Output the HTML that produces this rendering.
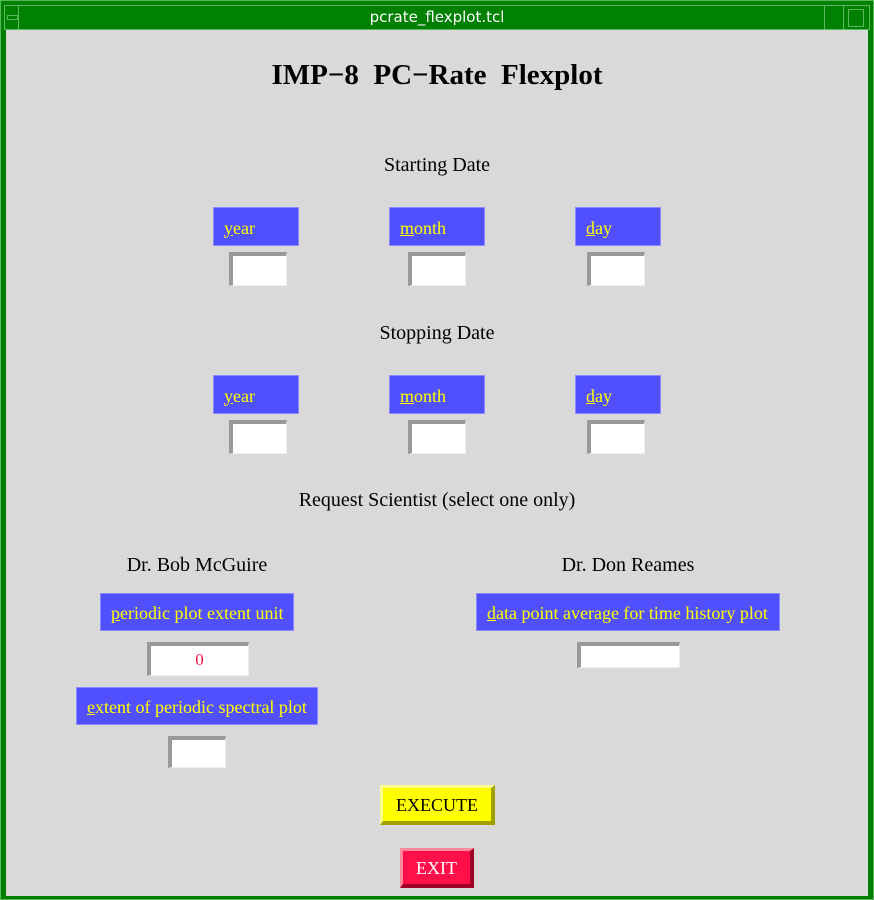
<!DOCTYPE html>
<html><head><style>
body{margin:0;width:874px;height:900px;background:#d9d9d9;position:relative;overflow:hidden;font-family:"Liberation Serif",serif}
.a{position:absolute}
.lb{position:absolute;background:#5050ff;border:1px solid #8a8aff;color:#ffff00;font-size:18px;box-sizing:border-box;display:flex;align-items:center;padding-left:10px;padding-top:3px}
.lb u{text-decoration:underline}
.en{position:absolute;background:#fff;box-sizing:border-box;border-top:4px solid #999;border-left:4px solid #999;border-right:1px solid #eee;border-bottom:1px solid #eee;color:#ff1040;font-size:17px;text-align:center;line-height:28px}
.t{position:absolute;font-size:20px;color:#000;text-align:center}
</style></head><body>
<div class="a" style="left:0;top:0;width:874px;height:900px;background:#008000"></div>
<div class="a" style="left:6px;top:30px;width:862px;height:866px;background:#d9d9d9"></div>
<div class="a" style="left:0;top:0;width:872px;height:898px;border:1px solid #5cb85c"></div>
<div class="a" style="left:4px;top:5px;width:864px;height:23px;border:1px solid #5cb85c"></div>
<div class="a" style="left:18px;top:5px;width:1px;height:24px;background:#5cb85c"></div>
<div class="a" style="left:824px;top:5px;width:1px;height:24px;background:#5cb85c"></div>
<div class="a" style="left:843px;top:5px;width:1px;height:24px;background:#5cb85c"></div>
<div class="a" style="left:7px;top:15px;width:9px;height:3px;border:1px solid #5cb85c"></div>
<div class="a" style="left:848px;top:9px;width:14px;height:16px;border:1px solid #5cb85c"></div>
<div class="a" style="left:0;top:6px;width:874px;text-align:center;color:#fff;font-family:'DejaVu Sans',sans-serif;font-size:15px;line-height:22px">pcrate_flexplot.tcl</div>

<div class="t" style="left:0;width:874px;top:59px;font-size:29px;font-weight:bold">IMP−8&nbsp; PC−Rate&nbsp; Flexplot</div>
<div class="t" style="left:0;width:874px;top:154px">Starting Date</div>
<div class="lb" style="left:213px;top:207px;width:86px;height:39px"><span><u>y</u>ear</span></div>
<div class="lb" style="left:389px;top:207px;width:96px;height:39px"><span><u>m</u>onth</span></div>
<div class="lb" style="left:575px;top:207px;width:86px;height:39px"><span><u>d</u>ay</span></div>
<div class="en" style="left:229px;top:252px;width:58px;height:34px"></div>
<div class="en" style="left:408px;top:252px;width:58px;height:34px"></div>
<div class="en" style="left:587px;top:252px;width:58px;height:34px"></div>

<div class="t" style="left:0;width:874px;top:322px">Stopping Date</div>
<div class="lb" style="left:213px;top:375px;width:86px;height:39px"><span><u>y</u>ear</span></div>
<div class="lb" style="left:389px;top:375px;width:96px;height:39px"><span><u>m</u>onth</span></div>
<div class="lb" style="left:575px;top:375px;width:86px;height:39px"><span><u>d</u>ay</span></div>
<div class="en" style="left:229px;top:420px;width:58px;height:34px"></div>
<div class="en" style="left:408px;top:420px;width:58px;height:34px"></div>
<div class="en" style="left:587px;top:420px;width:58px;height:34px"></div>

<div class="t" style="left:0;width:874px;top:489px">Request Scientist (select one only)</div>
<div class="t" style="left:97px;width:200px;top:554px">Dr. Bob McGuire</div>
<div class="t" style="left:528px;width:200px;top:554px">Dr. Don Reames</div>
<div class="lb" style="left:100px;top:593px;width:194px;height:38px"><span><u>p</u>eriodic plot extent unit</span></div>
<div class="en" style="left:147px;top:642px;width:102px;height:34px">0</div>
<div class="lb" style="left:76px;top:687px;width:242px;height:38px"><span><u>e</u>xtent of periodic spectral plot</span></div>
<div class="en" style="left:168px;top:736px;width:58px;height:32px"></div>
<div class="lb" style="left:476px;top:593px;width:304px;height:38px"><span><u>d</u>ata point average for time history plot</span></div>
<div class="en" style="left:577px;top:642px;width:103px;height:26px"></div>

<div class="a" style="left:380px;top:785px;width:115px;height:40px;box-sizing:border-box;background:#ffff00;border-top:3px solid #ffff90;border-left:3px solid #ffff90;border-right:4px solid #a0a000;border-bottom:4px solid #a0a000;font-size:18px;text-align:center;line-height:35px">EXECUTE</div>
<div class="a" style="left:400px;top:848px;width:74px;height:40px;box-sizing:border-box;background:#ff1048;border-top:3px solid #ff8aa0;border-left:3px solid #ff8aa0;border-right:4px solid #a00028;border-bottom:4px solid #a00028;color:#fff;font-size:18px;text-align:center;line-height:35px">EXIT</div>
</body></html>
